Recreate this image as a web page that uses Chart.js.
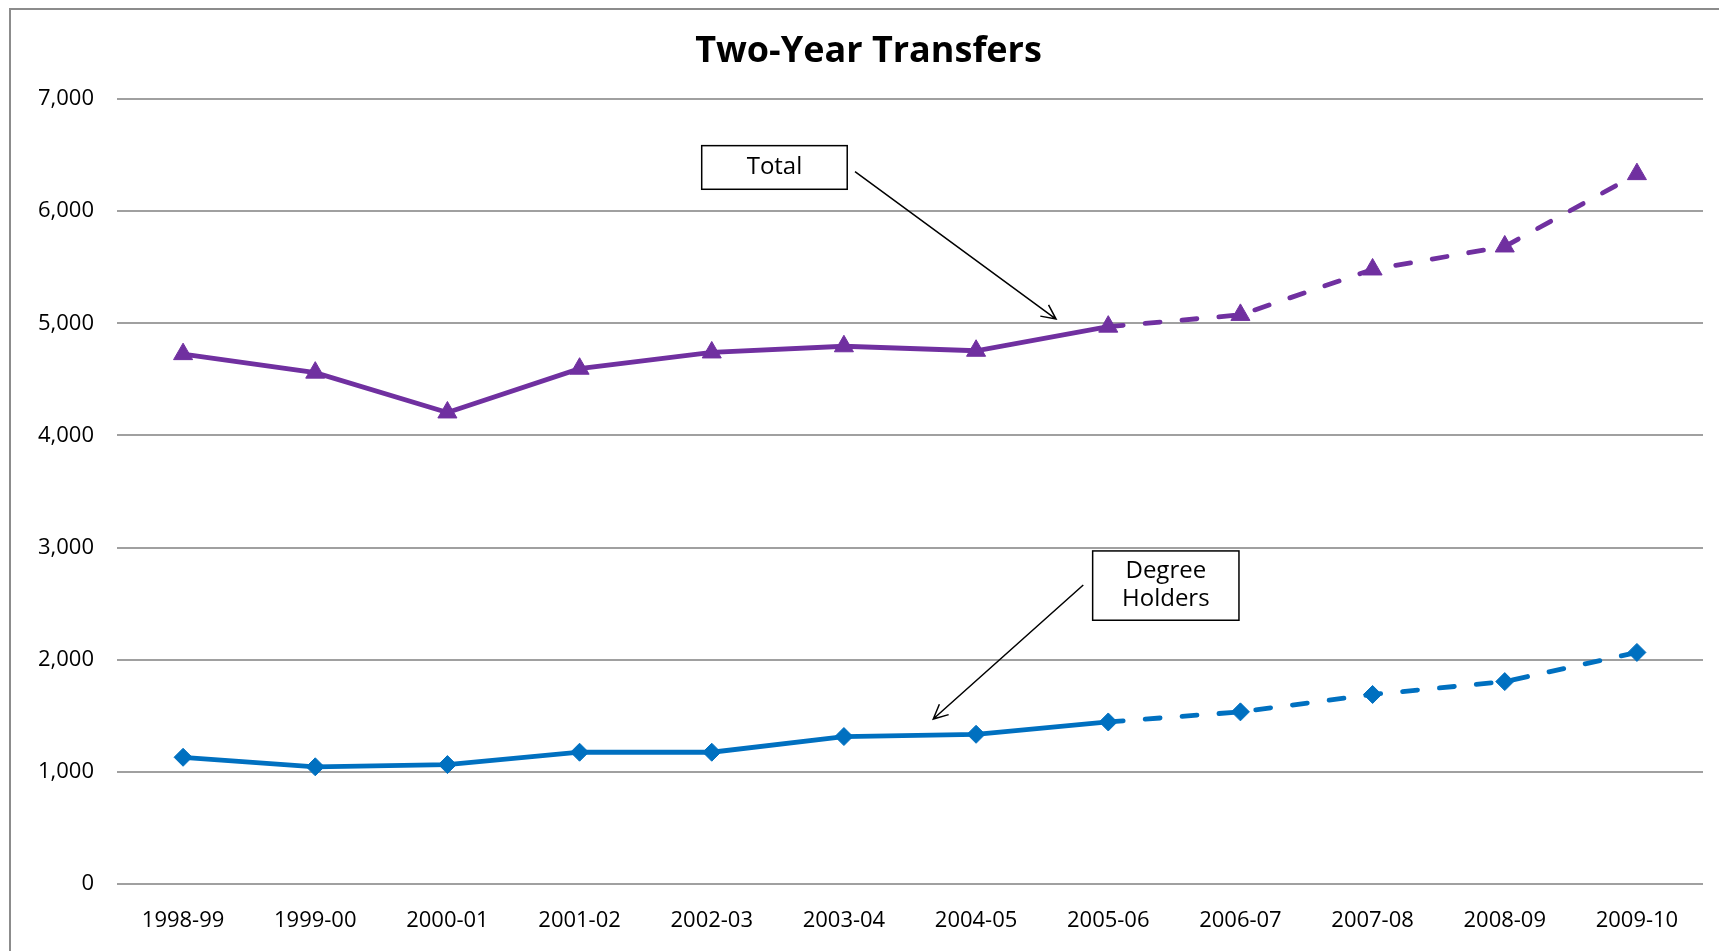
<!DOCTYPE html>
<html>
<head>
<meta charset="utf-8">
<title>Two-Year Transfers</title>
<script src="https://cdn.jsdelivr.net/npm/chart.js@4.4.1/dist/chart.umd.min.js"></script>
<style>
  html, body { margin: 0; padding: 0; background: #fff; }
  #wrap { width: 1719px; height: 951px; }
</style>
</head>
<body>
<div id="wrap"><canvas id="grafico" width="1719" height="951"></canvas></div>
<script>
// Dados
const anos = ['1998-99', '1999-00', '2000-01', '2001-02', '2002-03', '2003-04',
  '2004-05', '2005-06', '2006-07', '2007-08', '2008-09', '2009-10'];
const total = [4725, 4560, 4205, 4595, 4740, 4795, 4755, 4970, 5075, 5480, 5685, 6330];
const diplomados = [1130, 1045, 1065, 1175, 1175, 1315, 1335, 1445, 1535, 1690, 1805, 2065];
const yTicks = ['0', '1,000', '2,000', '3,000', '4,000', '5,000', '6,000', '7,000'];
const inicioProjecao = 7; // a partir de 2005-06 a linha fica tracejada

const roxo = '#7030A0';
const azul = '#0070C0';
const fonte = "'Open Sans', 'Noto Sans', sans-serif";

const tracejado = ctx => ctx.p0DataIndex >= inicioProjecao ? [15, 22] : undefined;

// caixas de texto com setas (posições em coordenadas dos eixos)
const notas = [
  { linhas: ['Total'], x0: 3.924, x1: 5.025, y0: 6584, y1: 6195,
    seta: [5.084, 6352, 6.605, 5038] },
  { linhas: ['Degree', 'Holders'], x0: 6.882, x1: 7.989, y0: 2970, y1: 2352,
    seta: [6.811, 2666, 5.676, 1471] }
];

const extras = {
  id: 'extras',
  beforeDraw(chart) {
    const c = chart.ctx;
    c.save();
    c.strokeStyle = '#8c8c8c';
    c.lineWidth = 2;
    c.strokeRect(10, 9, 1800, 1000);
    c.restore();
  },
  afterDraw(chart) {
    const c = chart.ctx;
    const sx = chart.scales.x, sy = chart.scales.y;
    c.save();
    c.strokeStyle = '#000';
    c.fillStyle = '#000';
    c.lineWidth = 1.5;
    notas.forEach(n => {
      const l = sx.getPixelForValue(n.x0), r = sx.getPixelForValue(n.x1);
      const t = sy.getPixelForValue(n.y0), b = sy.getPixelForValue(n.y1);
      c.fillStyle = '#fff';
      c.fillRect(l, t, r - l, b - t);
      c.strokeRect(l, t, r - l, b - t);
      c.fillStyle = '#000';
      c.font = '24px ' + fonte;
      c.textAlign = 'center';
      c.textBaseline = 'middle';
      const cy = (t + b) / 2, lh = 28;
      n.linhas.forEach((txt, i) => {
        c.fillText(txt, (l + r) / 2, cy + (i - (n.linhas.length - 1) / 2) * lh);
      });
      // seta
      const ax = sx.getPixelForValue(n.seta[0]), ay = sy.getPixelForValue(n.seta[1]);
      const bx = sx.getPixelForValue(n.seta[2]), by = sy.getPixelForValue(n.seta[3]);
      const ang = Math.atan2(by - ay, bx - ax);
      c.beginPath();
      c.moveTo(ax, ay);
      c.lineTo(bx, by);
      c.moveTo(bx - 16 * Math.cos(ang - 0.45), by - 16 * Math.sin(ang - 0.45));
      c.lineTo(bx, by);
      c.lineTo(bx - 16 * Math.cos(ang + 0.45), by - 16 * Math.sin(ang + 0.45));
      c.stroke();
    });
    c.restore();
  }
};

new Chart(document.getElementById('grafico'), {
  type: 'line',
  data: {
    labels: anos,
    datasets: [
      {
        label: 'Total',
        data: total,
        borderColor: roxo,
        backgroundColor: roxo,
        borderWidth: 4.8,
        borderCapStyle: 'round',
        pointStyle: 'triangle',
        pointRadius: 11,
        pointBorderWidth: 1,
        tension: 0,
        segment: { borderDash: tracejado }
      },
      {
        label: 'Degree Holders',
        data: diplomados,
        borderColor: azul,
        backgroundColor: azul,
        borderWidth: 4.8,
        borderCapStyle: 'round',
        pointStyle: 'rectRot',
        pointRadius: 9,
        pointBorderWidth: 1,
        tension: 0,
        segment: { borderDash: tracejado }
      }
    ]
  },
  options: {
    responsive: false,
    animation: false,
    events: [],
    layout: { padding: { left: 34, right: 16, top: 10, bottom: 0 } },
    plugins: {
      legend: { display: false },
      tooltip: { enabled: false },
      title: {
        display: true,
        text: 'Two-Year Transfers',
        color: '#000',
        font: { family: fonte, size: 36, weight: 'bold' },
        padding: { top: 20.4, bottom: 25.4 }
      }
    },
    scales: {
      x: {
        offset: true,
        grid: { display: false, drawTicks: false },
        border: { display: false },
        ticks: { color: '#000', font: { family: fonte, size: 22 }, padding: 24, maxRotation: 0, autoSkip: false },
        afterFit: s => { s.height = 67; }
      },
      y: {
        min: 0,
        max: 7000,
        grid: { color: '#a0a0a0', lineWidth: 2, drawTicks: false },
        border: { display: false },
        ticks: {
          stepSize: 1000,
          color: '#000',
          font: { family: fonte, size: 22 },
          padding: 23,
          callback: (v, i) => yTicks[i]
        },
        afterFit: s => { s.width = 83; }
      }
    }
  },
  plugins: [extras]
});
</script>
</body>
</html>
